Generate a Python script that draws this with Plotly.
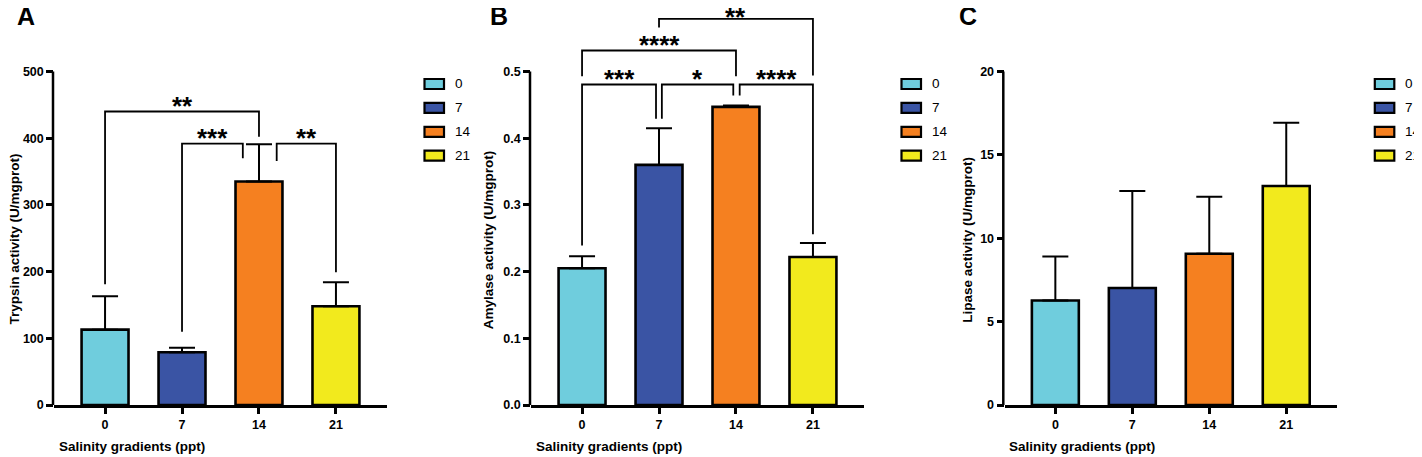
import plotly.graph_objects as go

# ---------------- data ----------------
categories = ["0", "7", "14", "21"]
group_colors = ["#6FCDDD", "#3A54A4", "#F58020", "#F2EA1D"]

trypsin_mean = [113, 79, 335, 148]
trypsin_err = [50, 7, 56, 36]
amylase_mean = [0.205, 0.360, 0.447, 0.222]
amylase_err = [0.018, 0.055, 0.002, 0.021]
lipase_mean = [6.27, 7.02, 9.07, 13.13]
lipase_err = [2.63, 5.81, 3.42, 3.80]

trypsin_tickvals = [0, 100, 200, 300, 400, 500]
trypsin_ticktext = ["0", "100", "200", "300", "400", "500"]
amylase_tickvals = [0, 0.1, 0.2, 0.3, 0.4, 0.5]
amylase_ticktext = ["0.0", "0.1", "0.2", "0.3", "0.4", "0.5"]
lipase_tickvals = [0, 5, 10, 15, 20]
lipase_ticktext = ["0", "5", "10", "15", "20"]

# significance comparisons
trypsin_sig_a = [0, 1, 2]
trypsin_sig_b = [2, 2, 3]
trypsin_sig_label = ["**", "***", "**"]
trypsin_sig_level = [440, 392, 392]
trypsin_sig_leg_a = [181, 110, 366]
trypsin_sig_leg_b = [402, 370, 199]

amylase_sig_a = [0, 1, 2, 0, 1]
amylase_sig_b = [1, 2, 3, 2, 3]
amylase_sig_label = ["***", "*", "****", "****", "**"]
amylase_sig_level = [0.4805, 0.4805, 0.4805, 0.5315, 0.579]
amylase_sig_leg_a = [0.239, 0.429, 0.464, 0.493, 0.5660]
amylase_sig_leg_b = [0.429, 0.464, 0.256, 0.493, 0.494]

lipase_sig_a, lipase_sig_b, lipase_sig_label = [], [], []
lipase_sig_level, lipase_sig_leg_a, lipase_sig_leg_b = [], [], []

# ---------------- style / placement ----------------
W, H = 1422, 457
FONT = "Liberation Sans, Arial, sans-serif"
# page offset and rendered plot height observed in the viewer
OFF_X, OFF_Y, REND_H = 8, 8, 450


def fx(screen_x):
    return (screen_x - OFF_X) / W


def fy(screen_y):
    return 1 - (screen_y - OFF_Y) / REND_H


Y_BOT = 405.0          # domain bottom (screen px)
Y_TOP = OFF_Y          # domain top (screen px)
AX_PX = 333.5          # pixel length from 0 to top tick
AX_LEN_PX = 332.5      # x-axis length
XRANGE = [-0.66, 3.66]

panels = [
    dict(letter="A", ytitle="Trypsin activity (U/mgprot)", mean=trypsin_mean, err=trypsin_err,
         tv=trypsin_tickvals, tt=trypsin_ticktext,
         sa=trypsin_sig_a, sb=trypsin_sig_b, sl=trypsin_sig_label, lev=trypsin_sig_level,
         la=trypsin_sig_leg_a, lb=trypsin_sig_leg_b,
         offa=[0, 0, 0.23], offb=[0, -0.21, 0], lift=[5.5, 5.5, 5.5],
         axis=53.0, letter_x=25.5, ytitle_x=14.0),
    dict(letter="B", ytitle="Amylase activity (U/mgprot)", mean=amylase_mean, err=amylase_err,
         tv=amylase_tickvals, tt=amylase_ticktext,
         sa=amylase_sig_a, sb=amylase_sig_b, sl=amylase_sig_label, lev=amylase_sig_level,
         la=amylase_sig_leg_a, lb=amylase_sig_leg_b,
         offa=[0, 0.037, 0.048, 0, 0], offb=[-0.039, -0.035, 0, 0, 0],
         lift=[5.5, 5.5, 5.5, 5.5, 2.3],
         axis=530.0, letter_x=499, ytitle_x=488.8),
    dict(letter="C", ytitle="Lipase activity (U/mgprot)", mean=lipase_mean, err=lipase_err,
         tv=lipase_tickvals, tt=lipase_ticktext,
         sa=lipase_sig_a, sb=lipase_sig_b, sl=lipase_sig_label, lev=lipase_sig_level,
         la=lipase_sig_leg_a, lb=lipase_sig_leg_b,
         offa=[], offb=[], lift=[],
         axis=1003.3, letter_x=968, ytitle_x=967.3),
]

fig = go.Figure()
shapes = []
annotations = []
layout_axes = {}

for k, p in enumerate(panels):
    n = "" if k == 0 else str(k + 1)
    xa, ya = "x" + n, "y" + n
    top = p["tv"][-1]
    dom_left = p["axis"] + 1.25
    fig.add_trace(go.Bar(
        x=list(range(len(categories))), y=p["mean"],
        xaxis=xa, yaxis=ya, width=0.61,
        marker=dict(color=group_colors, line=dict(color="black", width=2.6)),
        error_y=dict(type="data", array=p["err"], arrayminus=[0] * len(p["err"]),
                     symmetric=False, color="black", thickness=2, width=13),
        showlegend=False, hoverinfo="skip",
    ))
    d0 = fx(dom_left)
    d1 = fx(dom_left + AX_LEN_PX)
    layout_axes["xaxis" + n] = dict(
        domain=[d0, d1], anchor=ya, range=XRANGE,
        tickvals=list(range(len(categories))), ticktext=categories,
        showline=True, linecolor="black", linewidth=2.5,
        ticks="outside", ticklen=6, tickwidth=2.5, tickcolor="black",
        showgrid=False, zeroline=False,
        tickfont=dict(family=FONT, size=12.5, color="black", weight="bold"),
    )
    layout_axes["yaxis" + n] = dict(
        domain=[fy(Y_BOT), fy(Y_TOP)], anchor=xa,
        range=[0, top * (Y_BOT - Y_TOP) / AX_PX],
        tickvals=p["tv"], ticktext=p["tt"],
        showline=False, ticks="outside", ticklen=7, tickwidth=2.5, tickcolor="black",
        showgrid=False, zeroline=False,
        tickfont=dict(family=FONT, size=12.5, color="black", weight="bold"),
    )
    # y axis line (only up to the top tick)
    shapes.append(dict(type="line", xref="paper", yref=ya, xsizemode="pixel", xanchor=d0,
                       x0=-1.25, x1=-1.25, y0=0, y1=top,
                       line=dict(color="black", width=2.5)))
    # significance brackets
    for i in range(len(p["sa"])):
        xl = p["sa"][i] + p["offa"][i]
        xr = p["sb"][i] + p["offb"][i]
        lev = p["lev"][i]
        path = f"M {xl} {p['la'][i]} L {xl} {lev} L {xr} {lev} L {xr} {p['lb'][i]}"
        shapes.append(dict(type="path", xref=xa, yref=ya, path=path,
                           line=dict(color="black", width=1.8)))
        annotations.append(dict(xref=xa, yref=ya, x=(xl + xr) / 2, y=lev, text=p["sl"][i],
                                showarrow=False, yanchor="middle", yshift=p["lift"][i],
                                font=dict(family=FONT, size=26, color="black", weight="bold")))
    # panel letter
    annotations.append(dict(xref="paper", yref="paper", x=fx(p["letter_x"]), y=fy(16.5),
                            text=p["letter"], showarrow=False, xanchor="center", yanchor="middle",
                            font=dict(family=FONT, size=25, color="black", weight="bold")))
    # axis titles
    annotations.append(dict(xref="paper", yref="paper", x=fx(p["ytitle_x"]), y=fy(239.5),
                            text=p["ytitle"], textangle=-90, showarrow=False,
                            xanchor="center", yanchor="middle",
                            font=dict(family=FONT, size=13.5, color="black", weight="bold")))
    annotations.append(dict(xref="paper", yref="paper", x=fx(p["axis"] + 3.5), y=fy(446.7),
                            text="Salinity gradients (ppt)", showarrow=False,
                            xanchor="left", yanchor="middle",
                            font=dict(family=FONT, size=13.5, color="black", weight="bold")))
    # legend
    lx = p["axis"] + 371.5
    for g, cat in enumerate(categories):
        cy = 84 + 23.9 * g
        shapes.append(dict(type="rect", xref="paper", yref="paper",
                           x0=fx(lx), x1=fx(lx + 19.5), y0=fy(cy + 5), y1=fy(cy - 5),
                           fillcolor=group_colors[g], line=dict(color="black", width=2.2)))
        annotations.append(dict(xref="paper", yref="paper", x=fx(lx + 28.5), y=fy(cy),
                                text=cat, showarrow=False, xanchor="left", yanchor="middle",
                                font=dict(family=FONT, size=13.5, color="black")))

fig.update_layout(
    width=W, height=H,
    margin=dict(l=0, r=0, t=0, b=0),
    paper_bgcolor="white", plot_bgcolor="white",
    showlegend=False,
    shapes=shapes, annotations=annotations,
    **layout_axes,
)

fig.write_html("out.html")
